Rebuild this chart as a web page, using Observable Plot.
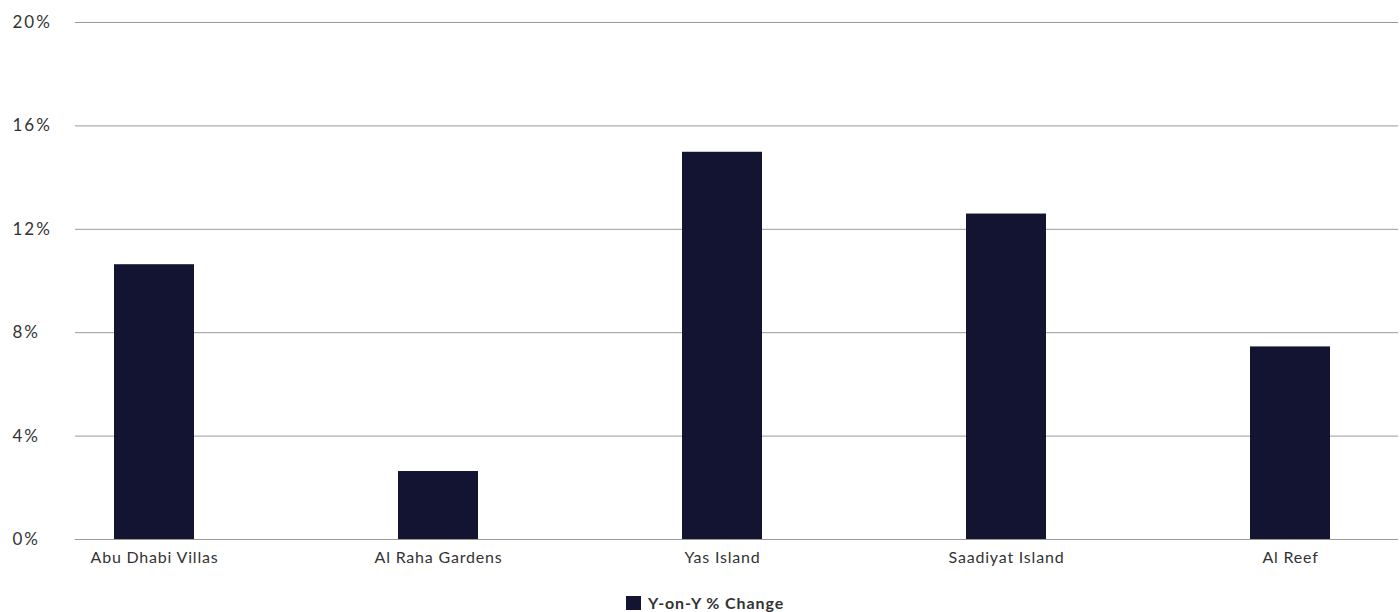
<!DOCTYPE html>
<html>
<head>
<meta charset="utf-8">
<script src="https://cdn.jsdelivr.net/npm/d3@7"></script>
<script src="https://cdn.jsdelivr.net/npm/@observablehq/plot@0.6"></script>
<style>
  html, body { margin: 0; padding: 0; background: #fff; }
  body { width: 1400px; height: 612px; overflow: hidden; font-family: Lato, "Open Sans", sans-serif; }
  #chart svg g[aria-label="y-axis tick label"] text { letter-spacing: 2px; }
  #chart svg g[aria-label="x-axis tick label"] text { letter-spacing: 0.8px; }
  #legend { display: flex; justify-content: center; align-items: center; gap: 7px; margin-top: 8px; margin-left: 10px;
            font-family: Lato, sans-serif; font-weight: 700; font-size: 16px; letter-spacing: 0.9px; color: #333; }
  #legend .sw { width: 15px; height: 14px; background: #131431; display: inline-block; }
</style>
</head>
<body>
<div id="chart"></div>
<div id="legend"><span class="sw"></span><span id="series-name"></span></div>
<script>
// Year-on-year price change by Abu Dhabi villa community
const communities = ["Abu Dhabi Villas", "Al Raha Gardens", "Yas Island", "Saadiyat Island", "Al Reef"];
const changePct = [10.63, 2.63, 14.98, 12.59, 7.45];
const yTicks = [0, 4, 8, 12, 16, 20];
const seriesName = "Y-on-Y % Change";

const data = communities.map((c, i) => ({community: c, value: changePct[i]}));

const chart = Plot.plot({
  width: 1400,
  height: 585,
  marginTop: 22,
  marginBottom: 46,
  marginLeft: 75,
  marginRight: 2,
  style: {fontFamily: "Lato, sans-serif", background: "#fff"},
  x: {domain: communities, range: [10.5, 1433.5], paddingInner: 0.7175, paddingOuter: 0.35875, label: null},
  y: {domain: [0, 20], ticks: yTicks, label: null},
  marks: [
    Plot.ruleY(yTicks, {stroke: "#9a9a9a", strokeWidth: 1}),
    Plot.barY(data, {x: "community", y: "value", fill: "#131431"}),
    Plot.axisY(yTicks, {tickSize: 0, textAnchor: "start", dx: -54, fontSize: 17, fill: "#333",
                        tickFormat: d => d + "%"}),
    Plot.axisX({tickSize: 0, tickPadding: 12, fontSize: 16, fill: "#333"})
  ]
});
document.getElementById("chart").appendChild(chart);
document.getElementById("series-name").textContent = seriesName;
</script>
</body>
</html>
